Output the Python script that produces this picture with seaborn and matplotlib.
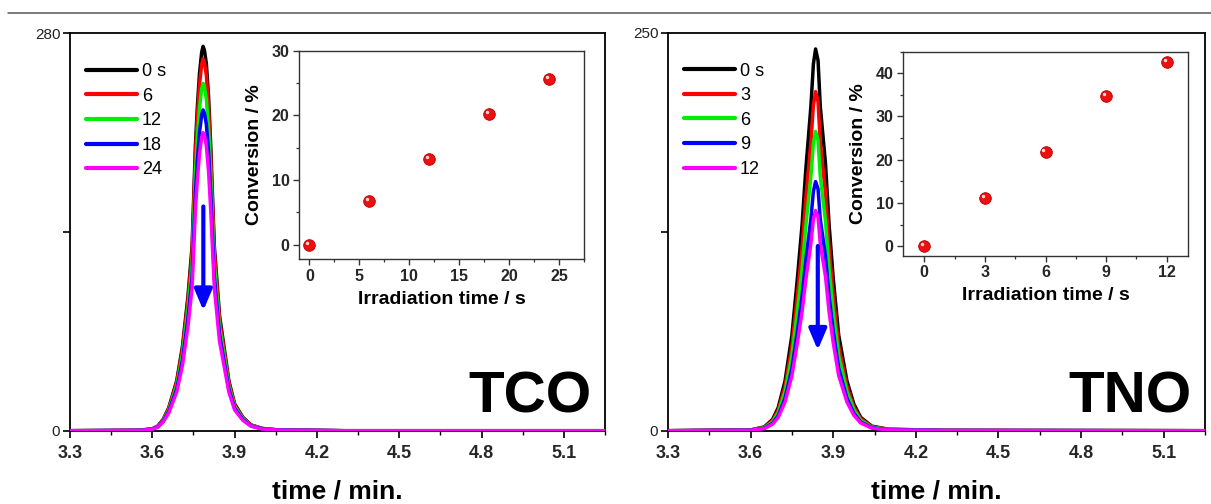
import numpy as np
import pandas as pd
import matplotlib
matplotlib.use("Agg")
import matplotlib.pyplot as plt
import matplotlib.transforms as mtransforms
from matplotlib.ticker import AutoMinorLocator, MultipleLocator
import seaborn as sns

# ---------------- data ----------------
# TCO chromatogram: retention time (min) and peak profile normalised to 1
tco_time = [3.300, 3.550, 3.600, 3.620, 3.640, 3.660, 3.689, 3.710, 3.730, 3.745,
            3.757, 3.764, 3.772, 3.780, 3.785, 3.790, 3.797, 3.805, 3.813, 3.826,
            3.845, 3.879, 3.900, 3.930, 3.960, 4.000, 4.060, 4.300, 5.250]
tco_profile = [0.000, 0.001, 0.005, 0.012, 0.030, 0.060, 0.130, 0.220, 0.350, 0.480,
               0.740, 0.840, 0.930, 0.985, 1.000, 0.990, 0.955, 0.870, 0.740, 0.480,
               0.300, 0.130, 0.070, 0.035, 0.015, 0.006, 0.002, 0.000, 0.000]
tco_labels = ["0 s", "6", "12", "18", "24"]
tco_heights = [270.8, 262.0, 244.7, 226.0, 210.0]
tco_irr_time = [0, 6, 12, 18, 24]
tco_conversion = [0.0, 6.8, 13.2, 20.2, 25.6]

# TNO chromatogram
tno_time = [3.300, 3.600, 3.650, 3.680, 3.700, 3.725, 3.750, 3.770, 3.787, 3.800,
            3.819, 3.828, 3.836, 3.845, 3.853, 3.872, 3.885, 3.900, 3.920, 3.950,
            3.975, 4.000, 4.040, 4.100, 4.300, 5.250]
tno_profile = [0.000, 0.002, 0.010, 0.030, 0.060, 0.130, 0.250, 0.400, 0.540, 0.680,
               0.850, 0.960, 1.000, 0.970, 0.850, 0.700, 0.540, 0.400, 0.250, 0.130,
               0.070, 0.035, 0.012, 0.004, 0.001, 0.000]
tno_labels = ["0 s", "3", "6", "9", "12"]
tno_heights = [239.8, 213.0, 188.0, 156.5, 138.3]
tno_irr_time = [0, 3, 6, 9, 12]
tno_conversion = [0.0, 11.2, 21.7, 34.8, 42.6]

time_ticks = [3.3, 3.6, 3.9, 4.2, 4.5, 4.8, 5.1]
series_colors = ["#000000", "#ff0000", "#00ee00", "#0000ff", "#ff00ff"]

# ---------------- style ----------------
sns.set_theme(style="ticks")
plt.rcParams["font.family"] = ["Liberation Sans", "DejaVu Sans"]
plt.rcParams["axes.linewidth"] = 1.3
plt.rcParams["text.color"] = "black"
plt.rcParams["axes.labelcolor"] = "black"

fig = plt.figure(figsize=(12.11, 5.04), dpi=100)

# thin rule across the top of the figure
fig.add_artist(plt.Line2D([0.007, 1.0], [0.975, 0.975], color="#555555", lw=1.1,
                          transform=fig.transFigure))


def chromatogram(rect, time, profile, labels, heights, ymax, name, arrow):
    ax = fig.add_axes(rect)
    frames = [pd.DataFrame({"time": time,
                            "signal": np.asarray(profile) * h,
                            "sample": lab})
              for lab, h in zip(labels, heights)]
    df = pd.concat(frames, ignore_index=True)
    sns.lineplot(data=df, x="time", y="signal", hue="sample", hue_order=labels,
                 palette=dict(zip(labels, series_colors)), lw=2.5,
                 estimator=None, sort=False, ax=ax, zorder=3)
    ax.set_xlim(3.3, 5.25)
    ax.set_ylim(0, ymax)
    ax.set_xticks(time_ticks, labels=[f"{t:.1f}" for t in time_ticks],
                  fontsize=13, fontweight="bold")
    ax.xaxis.set_minor_locator(AutoMinorLocator(2))
    ax.set_yticks([0, ymax / 2, ymax], labels=["0", "", f"{ymax:g}"], fontsize=11)
    ax.tick_params(axis="both", which="major", direction="out", length=5,
                   width=1.2, color="black", pad=2)
    ax.tick_params(axis="x", which="major", pad=5)
    ax.tick_params(axis="x", which="minor", direction="out", length=3,
                   width=1.0, color="black")
    ax.tick_params(axis="y", which="major", labelcolor="#222222")
    for s in ax.spines.values():
        s.set_color("black")
    ax.set_xlabel("time / min.", fontsize=19, fontweight="bold", labelpad=13)
    ax.set_ylabel("")

    handles, labs = ax.get_legend_handles_labels()
    leg = ax.legend(handles, labs, loc="upper left", bbox_to_anchor=(0.03, 0.925),
                    frameon=False, borderpad=0, borderaxespad=0, fontsize=13,
                    handlelength=2.8, handletextpad=0.3, labelspacing=0.42)
    for line in leg.get_lines():
        line.set_linewidth(3.0)

    ax.text(0.975, 0.045, name, transform=ax.transAxes, ha="right",
            va="baseline", fontsize=42, fontweight="bold")

    x0, y0, y1 = arrow
    ax.annotate("", xy=(x0, y1), xytext=(x0, y0),
                arrowprops=dict(arrowstyle="-|>,head_length=0.85,head_width=0.36",
                                color="#0000ff", lw=3.0, mutation_scale=15,
                                shrinkA=0, shrinkB=0), zorder=4)
    return ax


def conversion_inset(rect, irr, conv, xlim, ylim, xstep, ystep):
    axi = fig.add_axes(rect)
    sns.scatterplot(x=irr, y=conv, color="#ee1010", s=70, edgecolor="#b00000",
                    linewidth=0.6, ax=axi, zorder=3, clip_on=False)
    # glossy highlight on each ball
    hl = mtransforms.offset_copy(axi.transData, fig=fig, x=-1.6, y=1.6, units="points")
    axi.scatter(irr, conv, s=6, color="white", alpha=0.85, transform=hl,
                zorder=4, linewidths=0, clip_on=False)
    axi.set_xlim(*xlim)
    axi.set_ylim(*ylim)
    axi.xaxis.set_major_locator(MultipleLocator(xstep))
    axi.xaxis.set_minor_locator(AutoMinorLocator(2))
    axi.yaxis.set_major_locator(MultipleLocator(ystep))
    axi.yaxis.set_minor_locator(AutoMinorLocator(2))
    axi.tick_params(axis="both", which="major", direction="out", length=4,
                    width=1.0, color="#333333", labelsize=11.5, pad=3)
    axi.tick_params(axis="both", which="minor", direction="out", length=2.5,
                    width=0.9, color="#333333")
    for lab in axi.get_xticklabels() + axi.get_yticklabels():
        lab.set_fontweight("bold")
    for s in axi.spines.values():
        s.set_color("#333333")
        s.set_linewidth(1.0)
    axi.set_xlabel("Irradiation time / s", fontsize=14, fontweight="bold", labelpad=5)
    axi.set_ylabel("Conversion / %", fontsize=14, fontweight="bold", labelpad=6)
    return axi


chromatogram([0.0578, 0.1454, 0.4418, 0.7885], tco_time, tco_profile, tco_labels,
             tco_heights, 280, "TCO", (3.786, 158, 84.7))
chromatogram([0.5516, 0.1454, 0.4434, 0.7897], tno_time, tno_profile, tno_labels,
             tno_heights, 250, "TNO", (3.844, 116, 50.7))

conversion_inset([0.2472, 0.4861, 0.2351, 0.4133], tco_irr_time, tco_conversion,
                 (-1.0, 27.5), (-2.2, 30), 5, 10)
conversion_inset([0.7459, 0.4927, 0.2349, 0.4048], tno_irr_time, tno_conversion,
                 (-1.04, 13.04), (-2.2, 45), 3, 10)

fig.savefig("out.png", dpi=100)
